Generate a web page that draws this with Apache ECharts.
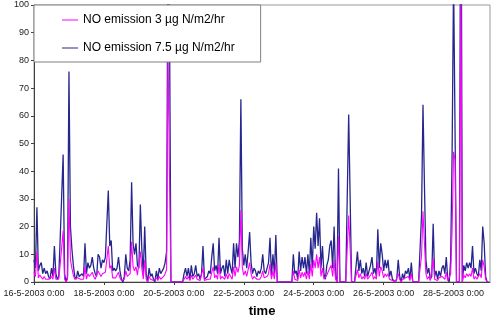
<!DOCTYPE html>
<html>
<head>
<meta charset="utf-8">
<script src="https://cdn.jsdelivr.net/npm/echarts@6/dist/echarts.min.js"></script>
<style>
html, body { margin: 0; padding: 0; background: #fff; }
#chart { width: 491px; height: 321px; }
</style>
</head>
<body>
<div id="chart"></div>
<script>
// hourly values, first point = 16-5-2003 0:00
var seriesNames = ['NO emission 3 µg N/m2/hr', 'NO emission 7.5 µg N/m2/hr'];
var dayLabels = ['16-5-2003 0:00', '18-5-2003 0:00', '20-5-2003 0:00', '22-5-2003 0:00',
    '24-5-2003 0:00', '26-5-2003 0:00', '28-5-2003 0:00'];
var yTicks = [0, 10, 20, 30, 40, 50, 60, 70, 80, 90, 100];

var emission3 = [
    3.5, 2, 11, 1.5, 2.5, 3, 1, 2, 1, 1.5, 1, 0.5, 2, 1, 5, 1, 0.5, 1, 6.5, 12.5, 18.5, 1, 0, 1,
    30, 8, 5, 2.5, 1, 0.5, 1.5, 1, 1, 1, 1, 5.5, 1, 3, 2, 2.5, 3.5, 2, 1, 1, 4, 3.5, 2, 3,
    3, 3.5, 3.5, 13, 5, 6, 1.5, 2, 1.5, 2, 3.5, 1.5, 0.5, 0, 1, 4, 2, 1.5, 3, 14.5, 5.5, 4, 5.5, 2.5,
    2, 11, 5, 1, 8, 1, 0, 2, 1, 1, 0.5, 0, 1.5, 0.5, 2, 1, 1, 2, 3, 4.5, 85, 38, 0, 0,
    0, 0, 0, 0, 0, 0, 0, 1, 2, 1, 2, 0.5, 2.5, 1, 1, 2.5, 1, 1, 0.5, 1, 5, 0.5, 0.5, 1,
    1.5, 1, 3.5, 5.5, 1.5, 2.5, 1, 6.5, 1, 2, 2.5, 1, 3, 1, 3, 2, 1, 5.5, 2, 5.5, 3.5, 6, 26, 5,
    2.5, 4, 2, 4.5, 7, 3, 1, 2, 1.5, 1, 1.5, 1, 2, 4, 1.5, 1, 2, 3, 6.5, 1, 4, 1, 7, 0,
    0, 0, 0, 0, 0, 0, 0, 0, 0, 0, 4, 1, 1.5, 0.5, 4.5, 1.5, 3.5, 2, 3.5, 1, 4, 1, 6.5, 2,
    8, 5, 10, 5, 9, 2, 5, 1, 0.5, 2.5, 3, 5, 6, 2, 8, 1, 0, 16.5, 0, 0, 0, 0, 0, 0,
    24, 24, 0, 0, 0, 0, 4.5, 1.5, 3, 1, 2, 1, 3, 1, 1.5, 2.5, 3.5, 1, 2, 1, 7.5, 2, 5.5, 4,
    1.5, 3, 2, 3, 1, 1.5, 0.5, 0.5, 0, 0.5, 3, 1, 0, 1, 0.5, 1.5, 1, 2, 0.5, 3, 0, 0, 0, 0,
    0, 0, 9.5, 25.5, 14, 3, 1, 2, 0.5, 1, 8.5, 1, 1.5, 0.5, 1.5, 1, 2, 2.5, 1, 3.5, 0.5, 0, 3, 19,
    47, 44, 0, 0, 0, 105, 0, 2.5, 1.5, 3, 2, 3, 2, 5, 1, 2, 1, 1, 3, 1.5, 8, 5.5, 1, 0, 0
];

var emission75 = [
    8, 5, 27, 4, 6, 7, 3, 5, 3, 4, 2, 1, 5, 2, 13, 3, 1, 2, 16, 31, 46, 3, 0, 2,
    76, 20, 12, 6, 2, 1, 4, 2, 2, 3, 2, 14, 3, 7, 5, 6, 9, 5, 3, 2, 10, 9, 5, 8,
    7, 9, 9, 33, 13, 15, 4, 5, 4, 5, 9, 4, 1, 0, 2, 10, 5, 4, 8, 36, 14, 10, 14, 6,
    5, 28, 12, 3, 20, 3, 0, 5, 2, 3, 1, 0, 4, 1, 5, 3, 3, 5, 7, 11, 130, 95, 0, 0,
    0, 0, 0, 0, 0, 0, 0, 3, 5, 2, 5, 1, 6, 2, 3, 6, 2, 3, 1, 3, 13, 1, 1, 2,
    4, 3, 9, 14, 4, 6, 3, 16, 3, 5, 6, 2, 8, 3, 8, 5, 3, 14, 5, 14, 9, 15, 66, 12,
    6, 10, 5, 11, 18, 7, 3, 5, 4, 2, 4, 3, 5, 10, 4, 3, 5, 7, 16, 2, 10, 3, 17, 0,
    0, 0, 0, 0, 0, 0, 0, 0, 0, 0, 10, 3, 4, 1, 11, 4, 9, 5, 9, 3, 10, 3, 16, 5,
    20, 12, 25, 13, 23, 5, 13, 3, 1, 6, 8, 13, 15, 5, 20, 2, 0, 41, 0, 0, 0, 0, 0, 0,
    60.5, 60.5, 0, 0, 0, 0, 11, 4, 8, 3, 5, 2, 7, 2, 4, 6, 9, 3, 5, 2, 19, 5, 14, 10,
    4, 8, 5, 8, 2, 4, 1, 1, 0, 1, 8, 2, 0, 3, 1, 4, 3, 5, 1, 7, 0, 0, 0, 0,
    0, 0, 24, 64, 35, 8, 3, 5, 1, 2, 21, 2, 4, 1, 4, 2, 5, 6, 3, 9, 1, 0, 8, 47,
    110, 110, 0, 0, 0, 180, 0, 6, 4, 7, 5, 7, 5, 13, 3, 5, 3, 2, 8, 4, 20, 14, 2, 0, 0
];

function toPoints(values) {
    var i;
    var pts = [];
    for (i = 0; i < values.length; i++) {
        pts.push([i, values[i]]);
    }
    return pts;
}

var chart = echarts.init(document.getElementById('chart'));
var font = 'Liberation Sans, Arial, sans-serif';

var option = {
    animation: false,
    textStyle: { fontFamily: font },
    grid: {
        left: 34,
        right: 1,
        top: 5,
        bottom: 39,
        show: true,
        borderColor: '#999999',
        borderWidth: 1,
        containLabel: false,
        outerBoundsMode: 'none'
    },
    legend: {
        data: seriesNames,
        orient: 'vertical',
        left: 34,
        top: 5,
        padding: [8, 26, 7, 28],
        itemGap: 14,
        itemWidth: 16,
        itemHeight: 1,
        icon: 'rect',
        backgroundColor: '#ffffff',
        borderColor: '#808080',
        borderWidth: 1,
        textStyle: { fontSize: 12, lineHeight: 14, color: '#000', fontFamily: font }
    },
    xAxis: {
        type: 'value',
        min: 0,
        max: 313,
        interval: 48,
        name: 'time',
        nameLocation: 'middle',
        nameGap: 23,
        nameTextStyle: { fontSize: 13, fontWeight: 'bold', color: '#000', fontFamily: font },
        splitLine: { show: false },
        axisLine: { show: true, lineStyle: { color: '#404040', width: 1 } },
        axisTick: { show: true, length: 3, lineStyle: { color: '#404040' } },
        axisLabel: {
            fontSize: 9,
            color: '#222',
            margin: 7,
            showMaxLabel: false,
            formatter: function (v) {
                return v % 48 === 0 ? dayLabels[v / 48] : '';
            }
        }
    },
    yAxis: {
        type: 'value',
        min: yTicks[0],
        max: yTicks[yTicks.length - 1],
        interval: 10,
        splitLine: { show: false },
        axisLine: { show: true, lineStyle: { color: '#404040', width: 1 } },
        axisTick: { show: true, length: 3, lineStyle: { color: '#404040' } },
        axisLabel: { fontSize: 9, color: '#222', margin: 5 }
    },
    series: [
        {
            name: seriesNames[1],
            type: 'line',
            data: toPoints(emission75),
            showSymbol: false,
            symbol: 'none',
            clip: true,
            color: '#26268e',
            lineStyle: { width: 1.3, color: '#26268e' }
        },
        {
            name: seriesNames[0],
            type: 'line',
            data: toPoints(emission3),
            showSymbol: false,
            symbol: 'none',
            clip: true,
            color: '#ff00ff',
            lineStyle: { width: 1.1, color: '#ff00ff' }
        }
    ]
};
chart.setOption(option);
</script>
</body>
</html>
